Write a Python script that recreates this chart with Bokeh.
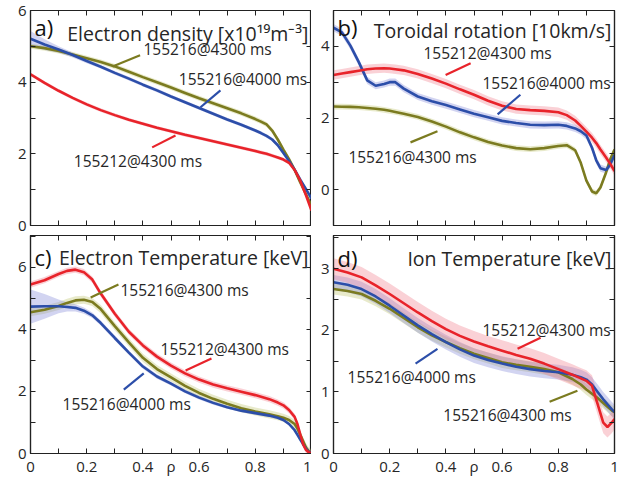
from bokeh.plotting import figure
from bokeh.layouts import column, row
from bokeh.models import Range1d, FixedTicker, LinearAxis, Label, NumeralTickFormatter
from bokeh.embed import file_html
from bokeh.resources import INLINE

FONT = "Open Sans"
RED, BLUE, OLIVE = "#e8232a", "#2c4ea9", "#7b7b20"
RED_BAND, BLUE_BAND, OLIVE_BAND = "#f27c8a", "#7d84d6", "#bcc36a"
TXT = "#262626"

# ---------------- panel a: electron density ----------------
RHO_A = [0, 0.05, 0.1, 0.15, 0.2, 0.25, 0.3, 0.35, 0.4, 0.45, 0.5, 0.55, 0.6, 0.65,
         0.7, 0.75, 0.8, 0.82, 0.84, 0.86, 0.88, 0.9, 0.92, 0.94, 0.96, 0.98, 1.0]
NE_216_4000 = [5.21, 5.05, 4.91, 4.76, 4.59, 4.43, 4.26, 4.10, 3.93, 3.77, 3.60, 3.44, 3.28, 3.12,
               2.96, 2.81, 2.65, 2.58, 2.50, 2.40, 2.24, 2.02, 1.80, 1.56, 1.28, 1.02, 0.75]
NE_216_4300 = [5.00, 4.95, 4.87, 4.77, 4.67, 4.56, 4.44, 4.29, 4.14, 4.00, 3.85, 3.70, 3.55, 3.41,
               3.27, 3.13, 2.97, 2.90, 2.82, 2.65, 2.40, 2.12, 1.85, 1.55, 1.20, 0.88, 0.55]
NE_212_4300 = [4.22, 3.98, 3.76, 3.56, 3.38, 3.22, 3.08, 2.95, 2.84, 2.73, 2.63, 2.53, 2.44, 2.35,
               2.26, 2.17, 2.08, 2.04, 2.00, 1.95, 1.90, 1.84, 1.75, 1.55, 1.25, 0.85, 0.42]
NE_ERR_216_4000 = [0.22, 0.15, 0.09, 0.07, 0.06, 0.05, 0.05, 0.05, 0.05, 0.05, 0.05, 0.05, 0.05, 0.05,
                   0.05, 0.05, 0.05, 0.05, 0.05, 0.05, 0.05, 0.05, 0.05, 0.05, 0.05, 0.05, 0.05]
NE_ERR_216_4300 = 0.07
NE_ERR_212_4300 = 0.05

# ---------------- panel b: toroidal rotation ----------------
RHO_B = [0, 0.03, 0.06, 0.09, 0.12, 0.15, 0.18, 0.2, 0.22, 0.25, 0.3, 0.35, 0.4, 0.45, 0.5, 0.55,
         0.6, 0.65, 0.7, 0.75, 0.8, 0.83, 0.86, 0.88, 0.9, 0.92, 0.935, 0.95, 0.97, 0.985, 1.0]
VT_216_4000 = [4.52, 4.39, 4.02, 3.56, 3.05, 2.90, 2.95, 3.00, 3.00, 2.82, 2.60, 2.47, 2.36, 2.24, 2.12, 2.02,
               1.92, 1.86, 1.81, 1.80, 1.81, 1.78, 1.71, 1.63, 1.51, 1.17, 0.82, 0.60, 0.55, 0.70, 0.97]
VT_212_4300 = [3.20, 3.24, 3.28, 3.32, 3.36, 3.38, 3.39, 3.38, 3.36, 3.33, 3.23, 3.10, 2.96, 2.80, 2.65, 2.48,
               2.34, 2.25, 2.22, 2.20, 2.16, 2.08, 1.93, 1.78, 1.62, 1.45, 1.30, 1.12, 0.90, 0.72, 0.52]
VT_216_4300 = [2.32, 2.315, 2.31, 2.30, 2.28, 2.26, 2.23, 2.20, 2.17, 2.12, 2.03, 1.90, 1.76, 1.60, 1.46, 1.33,
               1.23, 1.16, 1.13, 1.16, 1.22, 1.24, 1.10, 0.75, 0.25, -0.05, -0.10, 0.06, 0.48, 0.85, 1.12]
VT_ERR_216_4000 = 0.10
VT_ERR_212_4300 = 0.13
VT_ERR_216_4300 = 0.08

# ---------------- panel c: electron temperature ----------------
RHO_C = [0, 0.05, 0.1, 0.13, 0.16, 0.19, 0.22, 0.25, 0.3, 0.35, 0.4, 0.45, 0.5, 0.55, 0.6, 0.65,
         0.7, 0.75, 0.8, 0.85, 0.88, 0.9, 0.92, 0.94, 0.95, 0.96, 0.97, 0.98, 0.99, 1.0]
TE_212_4300 = [5.44, 5.58, 5.78, 5.88, 5.92, 5.84, 5.60, 5.15, 4.50, 3.92, 3.48, 3.12, 2.83, 2.58, 2.38, 2.22,
               2.10, 1.99, 1.88, 1.75, 1.64, 1.55, 1.40, 1.18, 0.95, 0.62, 0.30, 0.12, 0.04, 0.0]
TE_216_4300 = [4.55, 4.63, 4.75, 4.85, 4.93, 4.95, 4.88, 4.65, 4.10, 3.58, 3.08, 2.72, 2.45, 2.18, 1.95, 1.76,
               1.60, 1.46, 1.35, 1.26, 1.20, 1.15, 1.08, 0.95, 0.80, 0.60, 0.40, 0.20, 0.07, 0.0]
TE_216_4000 = [4.73, 4.74, 4.74, 4.72, 4.69, 4.60, 4.45, 4.20, 3.72, 3.25, 2.80, 2.48, 2.25, 2.00, 1.80, 1.63,
               1.49, 1.38, 1.30, 1.22, 1.15, 1.08, 0.95, 0.75, 0.60, 0.45, 0.30, 0.16, 0.06, 0.0]
TE_ERR_216_4000 = [0.55, 0.40, 0.22, 0.15, 0.12, 0.10, 0.09, 0.08, 0.08, 0.07, 0.07, 0.07, 0.06, 0.06, 0.06,
                   0.06, 0.05, 0.05, 0.05, 0.05, 0.05, 0.05, 0.05, 0.04, 0.04, 0.03, 0.03, 0.02, 0.02, 0.02]
TE_ERR_216_4300 = 0.13
TE_ERR_212_4300 = 0.10

# ---------------- panel d: ion temperature ----------------
RHO_D = [0, 0.05, 0.1, 0.15, 0.2, 0.25, 0.3, 0.35, 0.4, 0.45, 0.5, 0.55, 0.6, 0.65, 0.7, 0.75,
         0.8, 0.85, 0.88, 0.9, 0.92, 0.94, 0.96, 0.975, 0.99, 1.0]
TI_212_4300 = [3.00, 2.94, 2.86, 2.73, 2.59, 2.44, 2.29, 2.15, 2.02, 1.91, 1.82, 1.74, 1.67, 1.60, 1.54, 1.46,
               1.37, 1.28, 1.22, 1.18, 1.10, 0.80, 0.50, 0.43, 0.50, 0.56]
TI_216_4000 = [2.78, 2.74, 2.67, 2.55, 2.40, 2.24, 2.08, 1.94, 1.81, 1.69, 1.59, 1.52, 1.46, 1.41, 1.37, 1.34,
               1.32, 1.28, 1.24, 1.20, 1.12, 1.00, 0.88, 0.80, 0.72, 0.67]
TI_216_4300 = [2.67, 2.64, 2.59, 2.48, 2.35, 2.20, 2.05, 1.92, 1.81, 1.71, 1.62, 1.55, 1.48, 1.44, 1.41, 1.37,
               1.32, 1.21, 1.12, 1.04, 0.97, 0.90, 0.82, 0.76, 0.70, 0.67]
TI_ERR_212_4300 = 0.17
TI_ERR_216_4000 = 0.12
TI_ERR_216_4300 = 0.09

# ---------------- texts & ticks ----------------
TITLES = ["Electron density [x10\u00b9\u2079m\u207b\u00b3]", "Toroidal rotation [10km/s]",
          "Electron Temperature [keV]", "Ion Temperature [keV]"]
LETTERS = ["a)", "b)", "c)", "d)"]
TITLE_Y = [5.36, 4.44, 6.32, 3.16]
LETTER_Y = [5.53, 4.53, 6.34, 3.18]
X_ALL = [0, 0.1, 0.2, 0.3, 0.4, 0.5, 0.6, 0.7, 0.8, 0.9, 1.0]
X_LABELED = [0, 0.2, 0.4, 0.5, 0.6, 0.8, 1.0]
X_UNLABELED = [0.1, 0.3, 0.7, 0.9]
X_NAME = "\u03c1"

# annotation label positions (x, y) and pointer segments (x0, y0, x1, y1)
ANN_A = [("155216@4300 ms", 0.402, 4.92), ("155216@4000 ms", 0.528, 4.08), ("155212@4300 ms", 0.154, 1.79)]
PTR_A = [(OLIVE, 0.292, 4.44, 0.39, 4.75), (BLUE, 0.605, 3.30, 0.676, 3.77), (RED, 0.433, 2.18, 0.516, 2.51)]
ANN_B = [("155212@4300 ms", 0.32, 3.81), ("155216@4000 ms", 0.53, 2.98), ("155216@4300 ms", 0.053, 0.91)]
PTR_B = [(RED, 0.399, 3.20, 0.488, 3.53), (BLUE, 0.584, 2.10, 0.665, 2.65), (OLIVE, 0.274, 1.32, 0.37, 1.63)]
ANN_C = [("155216@4300 ms", 0.32, 5.28), ("155212@4300 ms", 0.463, 3.35), ("155216@4000 ms", 0.114, 1.58)]
PTR_C = [(OLIVE, 0.214, 5.02, 0.313, 5.44), (RED, 0.552, 2.67, 0.644, 3.06), (BLUE, 0.332, 2.06, 0.403, 2.58)]
ANN_D = [("155212@4300 ms", 0.53, 2.01), ("155216@4000 ms", 0.05, 1.25), ("155216@4300 ms", 0.391, 0.63)]
PTR_D = [(RED, 0.655, 1.70, 0.737, 1.88), (BLUE, 0.292, 1.46, 0.37, 1.70), (OLIVE, 0.769, 0.84, 0.868, 1.02)]


def style_axis(ax, fs="15px"):
    ax.axis_line_color = "#222222"
    ax.axis_line_width = 1.2
    ax.major_tick_in = 5
    ax.major_tick_out = 0
    ax.minor_tick_in = 5
    ax.minor_tick_out = 0
    ax.major_tick_line_color = "#222222"
    ax.minor_tick_line_color = "#222222"
    ax.major_label_text_font = FONT
    ax.major_label_text_color = TXT
    ax.major_label_text_font_size = fs
    ax.major_label_standoff = 2


def bare_axis(ticks):
    # ticks only (as minor ticks), no labels
    ax = LinearAxis(ticker=FixedTicker(ticks=[], minor_ticks=ticks))
    style_axis(ax)
    ax.major_label_standoff = 0
    return ax


def make_panel(w, h, ylo, yhi, ymaj, ymin, show_x, borders, idx):
    bl, br, bt, bb = borders
    p = figure(width=w, height=h, x_range=Range1d(0, 1), y_range=Range1d(ylo, yhi),
               output_backend="svg", toolbar_location=None,
               min_border_left=bl, min_border_right=br, min_border_top=bt, min_border_bottom=bb,
               x_axis_location=None, y_axis_location=None)
    p.grid.visible = False
    p.outline_line_color = "#222222"
    p.outline_line_width = 1.2
    p.background_fill_color = "white"
    p.border_fill_color = "white"

    if show_x:
        xb = LinearAxis(ticker=FixedTicker(ticks=X_LABELED, minor_ticks=X_UNLABELED),
                        formatter=NumeralTickFormatter(format="0.[0]"))
        style_axis(xb)
        xb.major_label_overrides = {0.5: X_NAME}
        xb.major_label_standoff = 2
    else:
        xb = bare_axis(X_ALL)
    p.add_layout(xb, "below")
    p.add_layout(bare_axis(X_ALL), "above")
    yl = LinearAxis(ticker=FixedTicker(ticks=ymaj, minor_ticks=ymin))
    style_axis(yl)
    yl.major_label_standoff = 4
    p.add_layout(yl, "left")
    p.add_layout(bare_axis(sorted(ymaj + ymin)), "right")

    p.add_layout(Label(x=0, y=LETTER_Y[idx], x_offset=4, text=LETTERS[idx], text_align="left",
                       text_baseline="alphabetic", text_font=FONT, text_font_size="22px",
                       text_color="#111111"))
    p.add_layout(Label(x=1, y=TITLE_Y[idx], x_offset=-3, text=TITLES[idx], text_align="right",
                       text_baseline="alphabetic", text_font=FONT, text_font_size="19.5px",
                       text_color=TXT))
    return p


def add_curves(p, rho, curves):
    for vals, err, color, band in curves:
        errs = err if isinstance(err, list) else [err] * len(vals)
        lo = [v - e for v, e in zip(vals, errs)]
        hi = [v + e for v, e in zip(vals, errs)]
        p.varea(x=rho, y1=lo, y2=hi, fill_color=band, fill_alpha=0.35)
    for vals, err, color, band in curves:
        p.line(rho, vals, line_color=color, line_width=2.6)


def add_annotations(p, anns, ptrs):
    for text, x, y in anns:
        p.add_layout(Label(x=x, y=y, text=text, text_align="left", text_baseline="middle",
                           text_font=FONT, text_font_size="15.5px", text_color=TXT))
    for color, x0, y0, x1, y1 in ptrs:
        p.segment(x0=[x0], y0=[y0], x1=[x1], y1=[y1], line_color=color, line_width=2.2)


# page has no margin: panels are placed at the reference pixel positions
TOP_H, BOT_H = 235, 244
pa = make_panel(311, TOP_H, 0, 6, [0, 2, 4, 6], [1, 3, 5], False, (30, 0, 10, 10), 0)
add_curves(pa, RHO_A, [(NE_216_4300, NE_ERR_216_4300, OLIVE, OLIVE_BAND),
                       (NE_216_4000, NE_ERR_216_4000, BLUE, BLUE_BAND),
                       (NE_212_4300, NE_ERR_212_4300, RED, RED_BAND)])
add_annotations(pa, ANN_A, PTR_A)

pb = make_panel(313, TOP_H, -1, 5, [0, 2, 4], [-1, 1, 3, 5], False, (22, 10, 10, 10), 1)
add_curves(pb, RHO_B, [(VT_216_4300, VT_ERR_216_4300, OLIVE, OLIVE_BAND),
                       (VT_216_4000, VT_ERR_216_4000, BLUE, BLUE_BAND),
                       (VT_212_4300, VT_ERR_212_4300, RED, RED_BAND)])
add_annotations(pb, ANN_B, PTR_B)

pc = make_panel(311, BOT_H, 0, 7.02, [0, 2, 4, 6], [1, 3, 5, 7], True, (30, 0, 0, 26), 2)
add_curves(pc, RHO_C, [(TE_216_4300, TE_ERR_216_4300, OLIVE, OLIVE_BAND),
                       (TE_216_4000, TE_ERR_216_4000, BLUE, BLUE_BAND),
                       (TE_212_4300, TE_ERR_212_4300, RED, RED_BAND)])
add_annotations(pc, ANN_C, PTR_C)

pd = make_panel(313, BOT_H, 0, 3.54, [0, 1, 2, 3], [0.5, 1.5, 2.5, 3.5], True, (22, 10, 0, 26), 3)
add_curves(pd, RHO_D, [(TI_216_4300, TI_ERR_216_4300, OLIVE, OLIVE_BAND),
                       (TI_216_4000, TI_ERR_216_4000, BLUE, BLUE_BAND),
                       (TI_212_4300, TI_ERR_212_4300, RED, RED_BAND)])
add_annotations(pd, ANN_D, PTR_D)

layout = column(row(pa, pb), row(pc, pd))
open("out.html", "w").write(file_html(layout, INLINE))
